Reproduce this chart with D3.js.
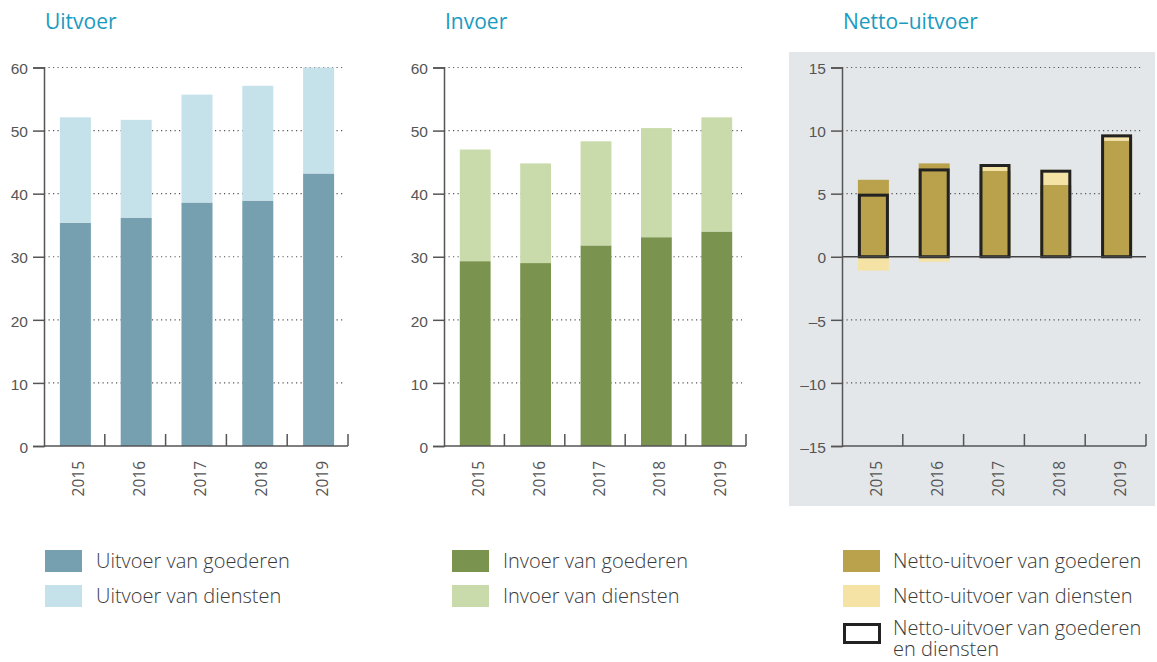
<!DOCTYPE html>
<html lang="nl">
<head>
<meta charset="UTF-8">
<title>Uitvoer, invoer en netto-uitvoer</title>
<style>
    body { margin: 0; background: #fff; }
    svg { font-family: "Open Sans", "DejaVu Sans", sans-serif; }
    .title { fill: #1a9bc0; font-size: 21px; font-weight: 400; }
    .tick text { fill: #555; font-size: 15.5px; }
    .legend text { fill: #3a3a3a; font-size: 20px; font-weight: 300; }
</style>
</head>
<body>
<svg width="1157" height="662"></svg>
<script src="https://cdn.jsdelivr.net/npm/d3@7"></script>
<script>

    // data (mld euro)
    var years = ["2015", "2016", "2017", "2018", "2019"];

    var uitvoerGoederen = [35.4, 36.2, 38.6, 38.9, 43.2];
    var uitvoerDiensten = [16.7, 15.5, 17.1, 18.2, 16.8];

    var invoerGoederen = [29.3, 29.0, 31.8, 33.1, 34.0];
    var invoerDiensten = [17.7, 15.8, 16.5, 17.3, 18.1];

    var nettoGoederen = [6.1, 7.4, 6.8, 5.7, 9.2];
    var nettoDiensten = [-1.1, -0.4, 0.55, 1.2, 0.5];
    var nettoTotaal = [5.0, 7.0, 7.35, 6.9, 9.7];

    var ticks60 = [0, 10, 20, 30, 40, 50, 60];
    var ticks15 = [-15, -10, -5, 0, 5, 10, 15];

    var svg = d3.select("svg");

    function drawPanel(opt) {
        var g = svg.append("g");

        if (opt.background) {
            g.append("rect")
                .attr("x", opt.background[0]).attr("y", opt.background[1])
                .attr("width", opt.background[2]).attr("height", opt.background[3])
                .attr("fill", "#e4e7ea");
        }

        g.append("text")
            .attr("class", "title")
            .attr("x", opt.left + 1)
            .attr("y", 29)
            .text(opt.title);

        var x = d3.scaleBand().domain(years).range([opt.left, opt.right]).padding(0);
        var y = d3.scaleLinear().domain(opt.domain).range([446, 67.5]);
        var barW = x.bandwidth() * 0.51;
        var bx = function(d) { return x(d) + (x.bandwidth() - barW) / 2 + 1; };

        // dotted grid (not on the axis, not on zero)
        g.append("g")
            .selectAll("line")
            .data(opt.ticks.filter(function(t) { return t !== opt.domain[0] && t !== 0; }))
            .enter().append("line")
            .attr("x1", opt.left).attr("x2", opt.right - 4)
            .attr("y1", function(d) { return y(d); })
            .attr("y2", function(d) { return y(d); })
            .attr("stroke", "#555")
            .attr("stroke-width", 1.2)
            .attr("stroke-dasharray", "1.2,3.3");

        // stacked bars
        var rows = years.map(function(yr, i) {
            return { year: yr, goederen: opt.goederen[i], diensten: opt.diensten[i] };
        });
        var series = d3.stack()
            .keys(["goederen", "diensten"])
            .offset(d3.stackOffsetDiverging)(rows);

        g.append("g")
            .selectAll("g")
            .data(series)
            .enter().append("g")
            .attr("fill", function(d, i) { return opt.colors[i]; })
            .selectAll("rect")
            .data(function(d) { return d; })
            .enter().append("rect")
            .attr("x", function(d) { return bx(d.data.year); })
            .attr("width", barW)
            .attr("y", function(d) { return y(Math.max(d[0], d[1])); })
            .attr("height", function(d) { return Math.abs(y(d[0]) - y(d[1])); });

        // totals as outlined boxes
        if (opt.totaal) {
            g.append("g")
                .selectAll("rect")
                .data(opt.totaal)
                .enter().append("rect")
                .attr("x", function(d, i) { return bx(years[i]) + 1.5; })
                .attr("width", barW - 3)
                .attr("y", function(d) { return y(d) + 1.5; })
                .attr("height", function(d) { return y(0) - y(d) - 1.5; })
                .attr("fill", "none")
                .attr("stroke", "#222")
                .attr("stroke-width", 3);
        }

        // zero line
        if (opt.domain[0] < 0) {
            g.append("line")
                .attr("x1", opt.left).attr("x2", opt.right)
                .attr("y1", y(0)).attr("y2", y(0))
                .attr("stroke", "#444").attr("stroke-width", 1.5);
        }

        // y axis
        var yAxis = g.append("g")
            .attr("transform", "translate(" + opt.left + ",0)")
            .call(d3.axisLeft(y).tickValues(opt.ticks).tickSize(11).tickPadding(5)
                .tickFormat(function(d) { return d < 0 ? "\u2013" + Math.abs(d) : d; }));
        yAxis.select(".domain").attr("stroke", "#555").attr("stroke-width", 1.5);
        yAxis.selectAll(".tick line").attr("stroke", "#555").attr("stroke-width", 1.5);
        yAxis.selectAll(".tick text").attr("dy", "0.4em");

        // x axis with ticks between the categories
        var base = y(opt.domain[0]);
        g.append("line")
            .attr("x1", opt.left).attr("x2", opt.right)
            .attr("y1", base).attr("y2", base)
            .attr("stroke", "#555").attr("stroke-width", 1.5);
        g.append("g")
            .selectAll("line")
            .data(years)
            .enter().append("line")
            .attr("x1", function(d) { return x(d) + x.bandwidth(); })
            .attr("x2", function(d) { return x(d) + x.bandwidth(); })
            .attr("y1", base - 12).attr("y2", base)
            .attr("stroke", "#555").attr("stroke-width", 1.5);
        g.append("g")
            .attr("class", "tick")
            .selectAll("text")
            .data(years)
            .enter().append("text")
            .attr("transform", function(d) {
                return "translate(" + (x(d) + x.bandwidth() / 2 + 4.5) + "," + (base + 15) + ") rotate(-90)";
            })
            .attr("text-anchor", "end")
            .attr("dy", "0.35em")
            .text(function(d) { return d; });
    }

    function drawLegend(items, sx, tx) {
        var lg = svg.append("g").attr("class", "legend");
        items.forEach(function(it) {
            if (it.outline) {
                lg.append("rect")
                    .attr("x", sx + 1.5).attr("y", it.y + 1.5)
                    .attr("width", 35).attr("height", 18)
                    .attr("fill", "#fff").attr("stroke", "#222").attr("stroke-width", 3);
            } else {
                lg.append("rect")
                    .attr("x", sx).attr("y", it.y)
                    .attr("width", 37).attr("height", 22)
                    .attr("fill", it.color);
            }
            it.lines.forEach(function(line, k) {
                lg.append("text")
                    .attr("x", tx).attr("y", it.baseline + k * 21)
                    .text(line);
            });
        });
    }

    drawPanel({
        title: "Uitvoer", left: 44, right: 348, domain: [0, 60], ticks: ticks60,
        goederen: uitvoerGoederen, diensten: uitvoerDiensten,
        colors: ["#76a0b0", "#c5e2eb"]
    });
    drawPanel({
        title: "Invoer", left: 444, right: 746, domain: [0, 60], ticks: ticks60,
        goederen: invoerGoederen, diensten: invoerDiensten,
        colors: ["#7a9450", "#c9dbab"]
    });
    drawPanel({
        title: "Netto\u2013uitvoer", left: 842, right: 1146, domain: [-15, 15], ticks: ticks15,
        goederen: nettoGoederen, diensten: nettoDiensten, totaal: nettoTotaal,
        colors: ["#b9a24b", "#f5e3a6"],
        background: [789, 52, 366, 454]
    });

    drawLegend([
        { color: "#76a0b0", y: 550, baseline: 568, lines: ["Uitvoer van goederen"] },
        { color: "#c5e2eb", y: 585, baseline: 603, lines: ["Uitvoer van diensten"] }
    ], 45, 96);
    drawLegend([
        { color: "#7a9450", y: 550, baseline: 568, lines: ["Invoer van goederen"] },
        { color: "#c9dbab", y: 585, baseline: 603, lines: ["Invoer van diensten"] }
    ], 452, 503);
    drawLegend([
        { color: "#b9a24b", y: 550, baseline: 568, lines: ["Netto-uitvoer van goederen"] },
        { color: "#f5e3a6", y: 585, baseline: 603, lines: ["Netto-uitvoer van diensten"] },
        { outline: true, y: 623, baseline: 635, lines: ["Netto-uitvoer van goederen", "en diensten"] }
    ], 843, 893);
</script>
</body>
</html>
